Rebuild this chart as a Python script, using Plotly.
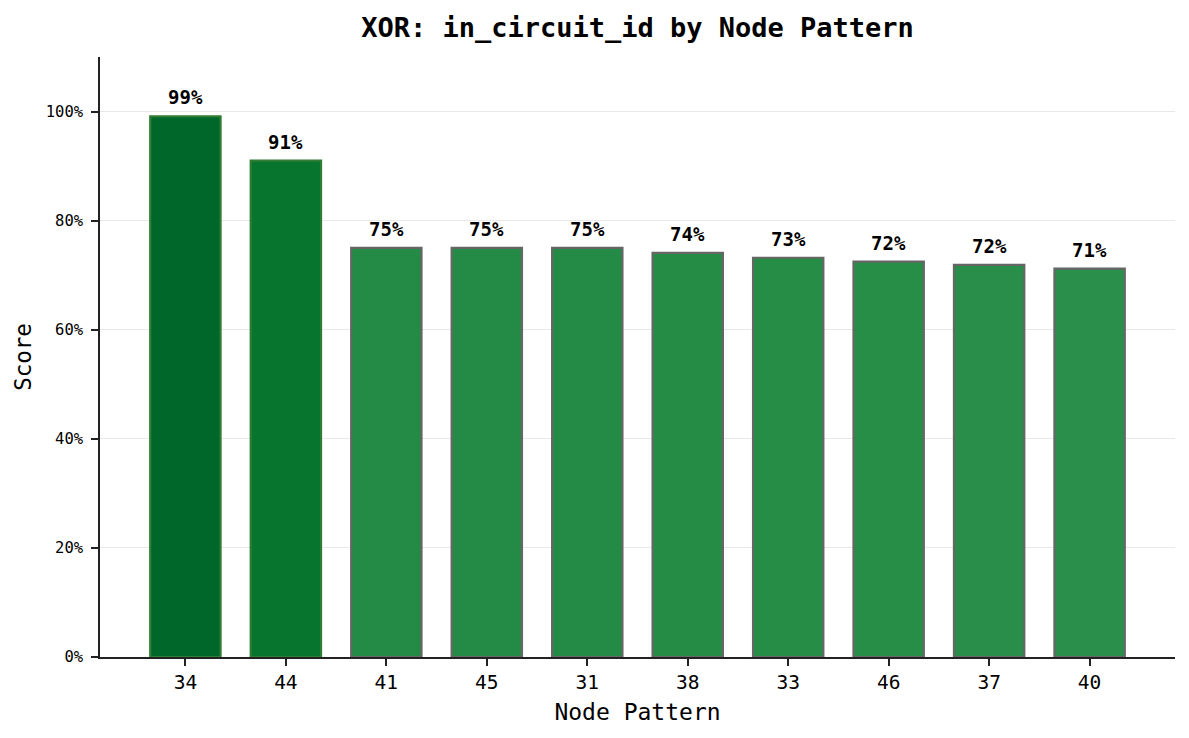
import plotly.graph_objects as go

categories = ["34", "44", "41", "45", "31", "38", "33", "46", "37", "40"]
scores = [0.991, 0.910, 0.750, 0.750, 0.750, 0.741, 0.732, 0.725, 0.719, 0.712]
labels = ["99%", "91%", "75%", "75%", "75%", "74%", "73%", "72%", "72%", "71%"]
fill_colors = ["#00672a", "#08752f", "#238b45", "#238b45", "#238b45",
               "#258c46", "#268d47", "#278e48", "#288e49", "#2a8f4a"]
edge_colors = ["#2e7d32", "#2e7d32", "#666666", "#666666", "#666666",
               "#666666", "#666666", "#666666", "#666666", "#666666"]

font_family = "DejaVu Sans Mono"

fig = go.Figure()
fig.add_trace(go.Bar(
    x=list(range(len(categories))),
    y=scores,
    width=0.7,
    marker=dict(color=fill_colors, line=dict(color=edge_colors, width=2.2)),
    hoverinfo="skip",
))

for i, (v, t) in enumerate(zip(scores, labels)):
    fig.add_annotation(x=i, y=v, text="<b>" + t + "</b>", showarrow=False,
                       yanchor="bottom", yshift=6,
                       font=dict(family=font_family, size=19, color="black"))

fig.update_layout(
    width=1173, height=722,
    margin=dict(l=92, r=6, t=49, b=73),
    paper_bgcolor="white", plot_bgcolor="white",
    showlegend=False,
    title=dict(text="<b>XOR: in_circuit_id by Node Pattern</b>", x=0.5, xanchor="center",
               xref="paper",
               y=1 - 20 / 722, yanchor="middle",
               font=dict(family=font_family, size=27, color="black")),
    font=dict(family=font_family, color="black"),
)

fig.update_xaxes(
    range=[-0.85, 9.85],
    tickmode="array", tickvals=list(range(len(categories))), ticktext=categories,
    tickfont=dict(family=font_family, size=19.5, color="black"),
    showline=True, linecolor="#222222", linewidth=1.6,
    ticks="outside", ticklen=7, tickwidth=1.6, tickcolor="#222222",
    showgrid=False, zeroline=False,
    title=dict(text="Node Pattern", font=dict(family=font_family, size=23, color="black"), standoff=11),
)
fig.update_yaxes(
    range=[0, 1.1],
    tickmode="array", tickvals=[0, 0.2, 0.4, 0.6, 0.8, 1.0],
    ticktext=["0%", "20%", "40%", "60%", "80%", "100%"],
    tickfont=dict(family=font_family, size=15.5, color="black"),
    ticklabelstandoff=5,
    showline=True, linecolor="#222222", linewidth=1.6,
    ticks="outside", ticklen=7, tickwidth=1.6, tickcolor="#222222",
    showgrid=True, gridcolor="#e8e8e8", gridwidth=1,
    zeroline=False,
    title=dict(text="Score", font=dict(family=font_family, size=22.5, color="black"), standoff=8),
)

fig.write_html("out.html")
